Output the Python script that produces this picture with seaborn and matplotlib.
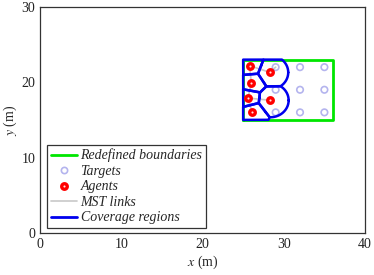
import numpy as np
import pandas as pd
import seaborn as sns
import matplotlib
matplotlib.use("Agg")
import matplotlib.pyplot as plt
from matplotlib.lines import Line2D

sns.set_style("white")
plt.rcParams['font.family'] = ['Liberation Serif', 'DejaVu Serif']
plt.rcParams['mathtext.fontset'] = 'stix'

# ---- data ----
boundary_x = [25, 36, 36, 25, 25]
boundary_y = [15, 15, 23, 23, 15]

target_x = [29, 32, 35, 29, 32, 35, 29, 32, 35]
target_y = [22, 22, 22, 19, 19, 19, 16, 16, 16]

agent_x = [25.8, 28.3, 26.0, 25.6, 28.35, 26.1]
agent_y = [22.2, 21.3, 19.9, 17.9, 17.6, 16.0]

# MST links: pairs of (x0, y0, x1, y1)
mst_x0 = [25.8, 28.3, 25.8, 26.0, 25.6, 25.6]
mst_y0 = [22.2, 21.3, 22.2, 19.9, 17.9, 17.9]
mst_x1 = [28.3, 29.0, 26.0, 25.6, 28.35, 26.1]
mst_y1 = [21.3, 22.0, 19.9, 17.9, 17.6, 16.0]

sensing_radius = 2.25

legend_labels = ["Redefined boundaries", "Targets", "Agents", "MST links", "Coverage regions"]

# ---- coverage cells: Voronoi cell within boundary, clipped to sensing disk ----
def cell_outline(i, n=720):
    ax_, ay_ = agent_x[i], agent_y[i]
    a = np.array([ax_, ay_])
    cons = [(np.array([-1.0, 0.0]), -min(boundary_x)),
            (np.array([1.0, 0.0]), max(boundary_x)),
            (np.array([0.0, -1.0]), -min(boundary_y)),
            (np.array([0.0, 1.0]), max(boundary_y))]
    for j in range(len(agent_x)):
        if j == i:
            continue
        b = np.array([agent_x[j], agent_y[j]])
        nrm = b - a
        c = nrm @ (a + b) / 2
        cons.append((nrm, c))
    th = np.linspace(0, 2 * np.pi, n)
    u = np.stack([np.cos(th), np.sin(th)], axis=1)
    rho = np.full(n, sensing_radius)
    for nrm, c in cons:
        nu = u @ nrm
        slack = c - nrm @ a
        with np.errstate(divide='ignore', invalid='ignore'):
            t = np.where(nu > 1e-12, slack / nu, np.inf)
        rho = np.minimum(rho, t)
    return ax_ + rho * u[:, 0], ay_ + rho * u[:, 1]

fig = plt.figure(figsize=(3.74, 2.75), dpi=100)
ax = fig.add_axes([0.107, 0.153, 0.869, 0.822])

green = '#00e600'
blue = '#0000ee'
gray = '#c8c8c8'
tcol = '#b4b4ee'

sns.lineplot(x=boundary_x, y=boundary_y, sort=False, estimator=None,
             color=green, linewidth=2, ax=ax)

for k in range(len(mst_x0)):
    sns.lineplot(x=[mst_x0[k], mst_x1[k]], y=[mst_y0[k], mst_y1[k]], sort=False,
                 estimator=None, color=gray, linewidth=1.2, ax=ax)

sns.scatterplot(x=target_x, y=target_y, marker='o', s=22, facecolor='none',
                edgecolor=tcol, linewidth=1.2, ax=ax, zorder=3)

for i in range(len(agent_x)):
    cx, cy = cell_outline(i)
    sns.lineplot(x=cx, y=cy, sort=False, estimator=None, color=blue,
                 linewidth=1.8, ax=ax, zorder=4)

sns.scatterplot(x=agent_x, y=agent_y, marker='o', s=16, color='#ffe0e0',
                edgecolor='#ff0000', linewidth=2.4, ax=ax, zorder=5)

ax.set_xlim(0, 40)
ax.set_ylim(0, 30)
ax.set_xticks([0, 10, 20, 30, 40])
ax.set_yticks([0, 10, 20, 30])
ax.tick_params(direction='in', length=3, width=0.8, labelsize=10, colors='#222222')
for s in ax.spines.values():
    s.set_color('#333333')
    s.set_linewidth(0.9)
ax.set_xlabel(r'$x$ (m)', fontsize=10, labelpad=2)
ax.set_ylabel(r'$y$ (m)', fontsize=10, labelpad=2)

handles = [
    Line2D([], [], color=green, linewidth=2),
    Line2D([], [], linestyle='none', marker='o', markersize=4.5, markerfacecolor='none',
           markeredgecolor=tcol, markeredgewidth=1.2),
    Line2D([], [], linestyle='none', marker='o', markersize=4, markerfacecolor='#ffe0e0',
           markeredgecolor='#ff0000', markeredgewidth=2.4),
    Line2D([], [], color=gray, linewidth=1.2),
    Line2D([], [], color=blue, linewidth=2),
]
leg = ax.legend(handles, legend_labels, loc='lower left', bbox_to_anchor=(0.022, 0.022),
                borderaxespad=0, fancybox=False, frameon=True, edgecolor='#333333',
                framealpha=1, handlelength=1.9, handletextpad=0.25, labelspacing=0.18,
                borderpad=0.25, prop={'family': 'Liberation Serif', 'style': 'italic', 'size': 10})
leg.get_frame().set_linewidth(0.9)

fig.savefig('out.png', dpi=100)
